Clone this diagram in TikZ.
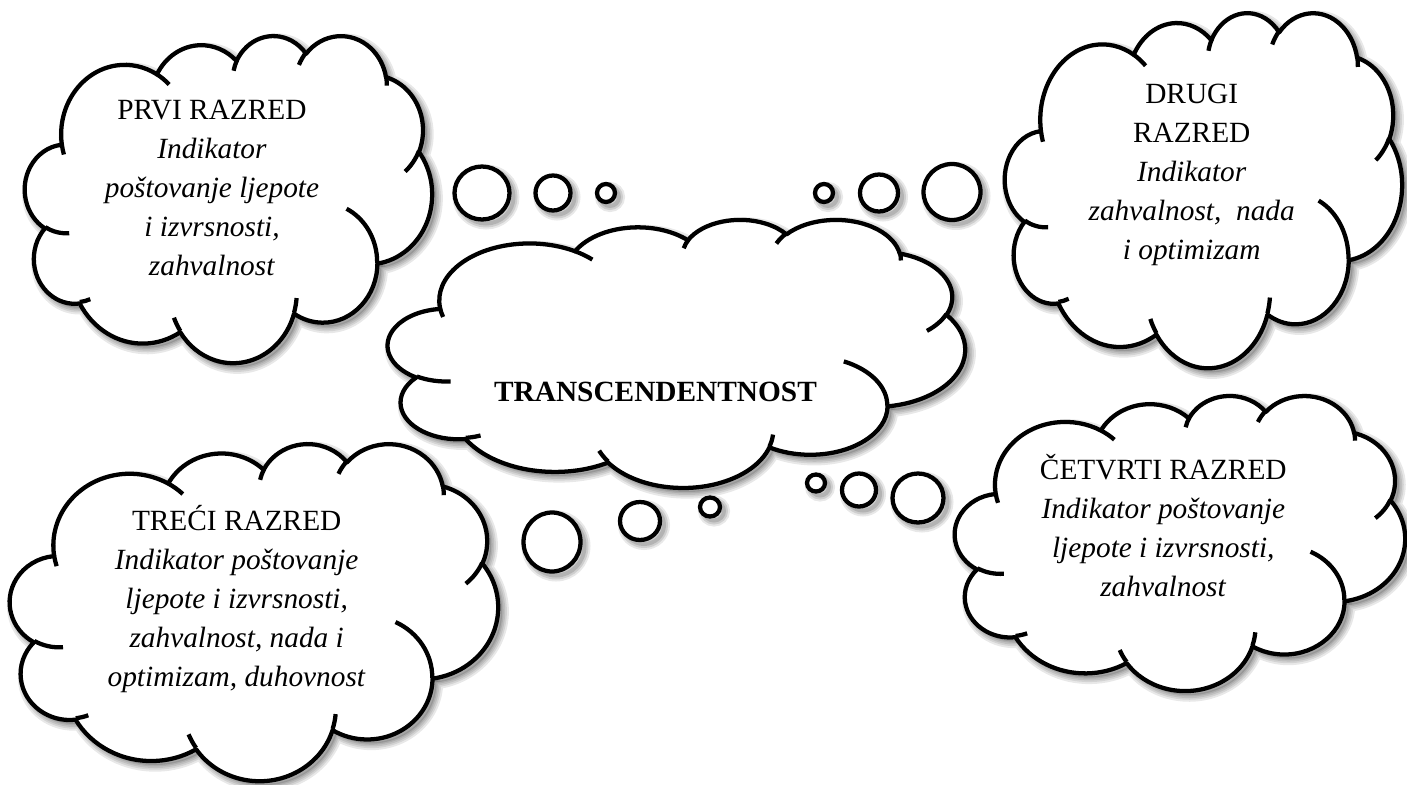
\documentclass[tikz,border=0pt]{standalone}
\usepackage{fontspec}
\setmainfont{Liberation Serif}
\usetikzlibrary{shapes.geometric}
\tikzset{
  declare function={pa(\pA,\pB,\pC)=\pA+Mod(atan2(\pB*sin(\pA),\pC*cos(\pA))-\pA+3780,360)-180;},
  outline/.style={line width=3.2pt, draw=black, line join=round},
  cloudfill/.style={outline, fill=white},
  shadowline/.style={draw=black, opacity=0.09, line join=round},
  label/.style={align=center, font=\fontsize{22}{29.25}\selectfont, inner sep=0pt, outer sep=0pt},
  bubble/.style={ellipse, draw=black, line width=3.2pt, fill=white, inner sep=0pt, outer sep=0pt,
    preaction={draw=black, fill=none, opacity=0.09, line width=9pt, transform canvas={xshift=3pt, yshift=-3pt}},
    preaction={draw=black, fill=none, opacity=0.11, line width=6pt, transform canvas={xshift=3pt, yshift=-3pt}},
    preaction={draw=black, fill=none, opacity=0.13, line width=3pt, transform canvas={xshift=3pt, yshift=-3pt}}},
}
\newcommand\ooarc[4]{arc[start angle={pa(#3,#1,#2)}, end angle={pa((#3)+(#4),#1,#2)}, x radius=#1, y radius=#2]}
\def\cloudmain{(39.00,143.70)
 \ooarc{67.53}{91.90}{-190.4875}{123.7805}
 \ooarc{53.33}{72.67}{-144.1024}{89.9452}
 \ooarc{43.65}{59.45}{-145.8079}{99.7230}
 \ooarc{48.57}{65.95}{-130.9861}{117.2417}
 \ooarc{53.33}{72.73}{-78.7089}{109.0269}
 \ooarc{67.75}{92.20}{-46.2673}{130.2690}
 \ooarc{57.85}{78.67}{0.6250}{114.0333}
 \ooarc{67.52}{92.15}{22.4516}{115.1726}
 \ooarc{77.20}{105.43}{66.2426}{75.7110}
 \ooarc{43.60}{59.18}{-274.9421}{146.7356}
 \ooarc{43.45}{59.45}{-246.8285}{152.5189}
 -- cycle}
\def\cloudinner{
 (46.93,261.77) \ooarc{43.45}{59.45}{86.7420}{26.4296}
 (69.28,348.99) \ooarc{43.60}{59.18}{73.6105}{11.4475}
 (164.78,390.90) \ooarc{67.52}{92.15}{137.6242}{14.0811}
 (288.27,347.51) \ooarc{67.52}{92.15}{6.4533}{15.9984}
 (341.29,229.54) \ooarc{57.85}{78.67}{-70.2924}{70.9174}
 (417.98,153.54) \ooarc{53.33}{72.73}{30.3180}{27.7515}
 (383.24,54.26) \ooarc{48.57}{65.95}{-13.7443}{14.8622}
 (290.78,39.52) \ooarc{48.57}{65.95}{-149.1815}{18.1954}
 (221.41,47.20) \ooarc{43.65}{59.45}{-163.4943}{17.6864}
 (140.00,51.92) \ooarc{67.53}{91.90}{-66.7070}{12.3194}
 (41.27,157.89) \ooarc{67.53}{91.90}{157.6544}{11.8582}
}
% name, left, top, width, height
\newcommand\wcloud[5]{%
  \begin{scope}[shift={(#2+4,#3+4)}, xscale=#4/432, yscale=#5/432]
    \fill[black, opacity=0.12] \cloudmain;
    \foreach \w in {10,7,4.5,2}{\path[shadowline, line width=\w pt] \cloudmain;}
    \foreach \w in {6,3}{\path[shadowline, line width=\w pt] \cloudinner;}
  \end{scope}
  \begin{scope}[shift={(#2,#3)}, xscale=#4/432, yscale=#5/432]
    \path[cloudfill] \cloudmain;
    \draw[outline] \cloudinner;
    \coordinate (#1) at (216,216);
  \end{scope}}
\begin{document}
\begin{tikzpicture}[x=0.75pt, y=-0.75pt]
\useasboundingbox (0,0) rectangle (1407,785);
\fill[white] (0,0) rectangle (1407,785);

% clouds
\wcloud{c1}{25}{35}{407}{327}
\wcloud{c2}{1005}{12}{397}{355}
\wcloud{c3}{10}{443}{488}{337}
\wcloud{c4}{955}{395}{450}{295}
\wcloud{c0}{388}{219}{577}{268}

% thought bubbles
\node[bubble, minimum width=41.25pt, minimum height=39.75pt] (b1) at (482,193) {};
\node[bubble, minimum width=26.25pt, minimum height=26.25pt] (b2) at (553,193) {};
\node[bubble, minimum width=13.5pt, minimum height=13.5pt] (b3) at (606,193) {};
\node[bubble, minimum width=13.5pt, minimum height=13.5pt] (b4) at (824,193) {};
\node[bubble, minimum width=28.5pt, minimum height=27.75pt] (b5) at (879,193) {};
\node[bubble, minimum width=42.75pt, minimum height=42pt] (b6) at (952,192) {};
\node[bubble, minimum width=42.75pt, minimum height=44.25pt] (b7) at (552,542) {};
\node[bubble, minimum width=30pt, minimum height=28.5pt] (b8) at (640,521) {};
\node[bubble, minimum width=15pt, minimum height=14.25pt] (b9) at (710,507) {};
\node[bubble, minimum width=13.5pt, minimum height=12.75pt] (b10) at (816,483) {};
\node[bubble, minimum width=25.5pt, minimum height=24.75pt] (b11) at (859,490) {};
\node[bubble, minimum width=38.25pt, minimum height=36.75pt] (b12) at (918,498) {};

% texts
\node[label] (t0) at (655.5,393.2) {\strut\textbf{TRANSCENDENTNOST}};
\node[label] (t1) at (212,190) {\strut PRVI RAZRED\\\textit{Indikator}\\\textit{poštovanje ljepote}\\\textit{i izvrsnosti,}\\\textit{zahvalnost}\strut};
\node[label] (t2) at (1191.7,174) {\strut DRUGI\\RAZRED\\\textit{Indikator}\\\textit{zahvalnost,\ \ nada}\\\textit{i optimizam}\strut};
\node[label] (t3) at (236.7,600.5) {\strut TREĆI RAZRED\\\textit{Indikator poštovanje}\\\textit{ljepote i izvrsnosti,}\\\textit{zahvalnost, nada i}\\\textit{optimizam, duhovnost}\strut};
\node[label] (t4) at (1163.3,530.5) {\strut ČETVRTI RAZRED\\\textit{Indikator poštovanje}\\\textit{ljepote i izvrsnosti,}\\\textit{zahvalnost}\strut};
\end{tikzpicture}
\end{document}
